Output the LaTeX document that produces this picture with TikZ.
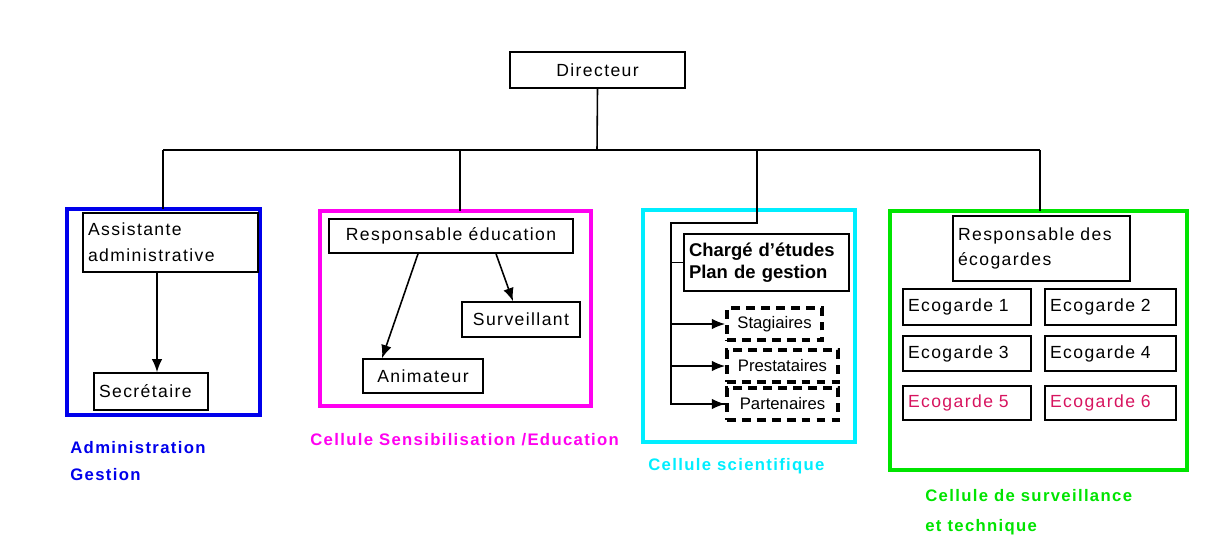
\documentclass[tikz,border=0pt]{standalone}
\usepackage{fontspec}
\setmainfont{Liberation Sans}[LetterSpace=8]
\newfontfamily\tightfont{Liberation Sans}
\usetikzlibrary{arrows.meta}
\definecolor{admblue}{RGB}{0,0,235}
\definecolor{edumag}{RGB}{255,0,240}
\definecolor{scicyan}{RGB}{0,238,255}
\definecolor{survgreen}{RGB}{0,228,0}
\definecolor{ecopink}{RGB}{215,20,95}
\tikzset{
	box/.style={draw, line width=0.9pt, inner xsep=0.1cm, inner ysep=0pt, align=left, font=\fontsize{10}{15}\selectfont},
	dashbox/.style={draw, line width=2.2pt, dash pattern=on 5pt off 3.5pt, inner sep=0pt, font=\tightfont\fontsize{9.5}{11}\selectfont},
	cell/.style={line width=2.8pt},
	link/.style={line width=0.9pt},
	arr/.style={link, -{Latex[length=7.5pt,width=6pt]}},
	caption/.style={anchor=west, inner sep=0pt, align=left, font=\bfseries\fontsize{9.5}{15}\selectfont},
}

\begin{document}
\begin{tikzpicture}[x=0.02cm, y=-0.02cm]
		\useasboundingbox (0,0) rectangle (1219,559);
		
		%%%%% director and bus %%%%%
		\node[box, align=center, minimum width=3.5cm, minimum height=0.72cm] (dir) at (597.5,70) {Directeur};
		\coordinate (bus) at (597,150);
		\draw[link] (dir.south) -- (bus);
		\draw[link] (163,150) -- (1040,150);
		
		%%%%% administration %%%%%
		\draw[cell, admblue] (67,209) rectangle (260,415);
		\draw[link] (163,150) -- (163,209);
		\node[box, text width=3.3cm, minimum height=1.18cm] (assist) at (170.5,242.5) {Assistante\\administrative};
		\node[box, text width=2.08cm, minimum height=0.74cm] (secr) at (151,391.5) {Secrétaire};
		\draw[arr] (assist.south -| secr.north) ++(6,0) -- ([xshift=0.12cm]secr.north);
		\node[caption, text=admblue] (admlab) at (70,461) {Administration\\Gestion};
		
		%%%%% education %%%%%
		\draw[cell, edumag] (320,211) rectangle (591,406);
		\draw[link] (460,150) -- (460,211);
		\node[box, align=center, minimum width=4.88cm, minimum height=0.68cm] (respedu) at (451,236) {Responsable éducation};
		\node[box, align=center, minimum width=2.36cm, minimum height=0.7cm] (surv) at (521,319.5) {Surveillant};
		\node[box, align=center, minimum width=2.4cm, minimum height=0.68cm] (anim) at (423,376) {Animateur};
		\draw[arr] ([xshift=-0.66cm]respedu.south) -- ([xshift=-0.82cm]anim.north);
		\draw[arr] ([xshift=0.9cm]respedu.south) -- ([xshift=-0.16cm]surv.north);
		\node[caption, text=edumag] (edulab) at (310,440) {Cellule Sensibilisation /Education};
		
		%%%%% scientific %%%%%
		\draw[cell, scicyan] (643,210) rectangle (855,442);
		\node[box, text width=3.1cm, minimum height=1.14cm, font=\tightfont\bfseries\fontsize{10.5}{12.5}\selectfont] (charge) at (766.5,262.5) {Chargé d’études\\Plan de gestion};
		\node[dashbox, minimum width=1.9cm, minimum height=0.64cm] (stag) at (774.5,324) {Stagiaires};
		\node[dashbox, minimum width=2.22cm, minimum height=0.64cm] (prest) at (782.5,366) {Prestataires};
		\node[dashbox, minimum width=2.22cm, minimum height=0.64cm] (part) at (782.5,404) {Partenaires};
		\coordinate (spine) at (671,223);
		\draw[link] (757,150) -- (757,223) -- (spine) |- (part.west);
		\draw[link] (spine |- charge.west) -- (charge.west);
		\draw[arr] (spine |- stag.west) -- (stag.west);
		\draw[arr] (spine |- prest.west) -- (prest.west);
		\draw[arr] (spine |- part.west) -- (part.west);
		\node[caption, text=scicyan] (scilab) at (648,466) {Cellule scientifique};
		
		%%%%% surveillance %%%%%
		\draw[cell, survgreen] (890,211) rectangle (1187,470);
		\draw[link] (1040,150) -- (1040,211);
		\node[box, text width=3.34cm, minimum height=1.3cm, font=\fontsize{10}{14.7}\selectfont] (respeco) at (1041.5,248.5) {Responsable des\\écogardes};
		\node[box, text width=2.36cm, minimum height=0.72cm] (eco1) at (967,307) {Ecogarde 1};
		\node[box, text width=2.42cm, minimum height=0.72cm] (eco2) at (1110.5,307) {Ecogarde 2};
		\node[box, text width=2.36cm, minimum height=0.7cm] (eco3) at (967,353.5) {Ecogarde 3};
		\node[box, text width=2.42cm, minimum height=0.7cm] (eco4) at (1110.5,353.5) {Ecogarde 4};
		\node[box, text width=2.36cm, minimum height=0.68cm, text=ecopink] (eco5) at (967,403) {Ecogarde 5};
		\node[box, text width=2.42cm, minimum height=0.68cm, text=ecopink] (eco6) at (1110.5,403) {Ecogarde 6};
		\node[caption, text=survgreen, font=\bfseries\fontsize{9.5}{17}\selectfont] (survlab) at (925,512) {Cellule de surveillance\\et technique};
		
		%%%%% END %%%%%
	\end{tikzpicture}
\end{document}
